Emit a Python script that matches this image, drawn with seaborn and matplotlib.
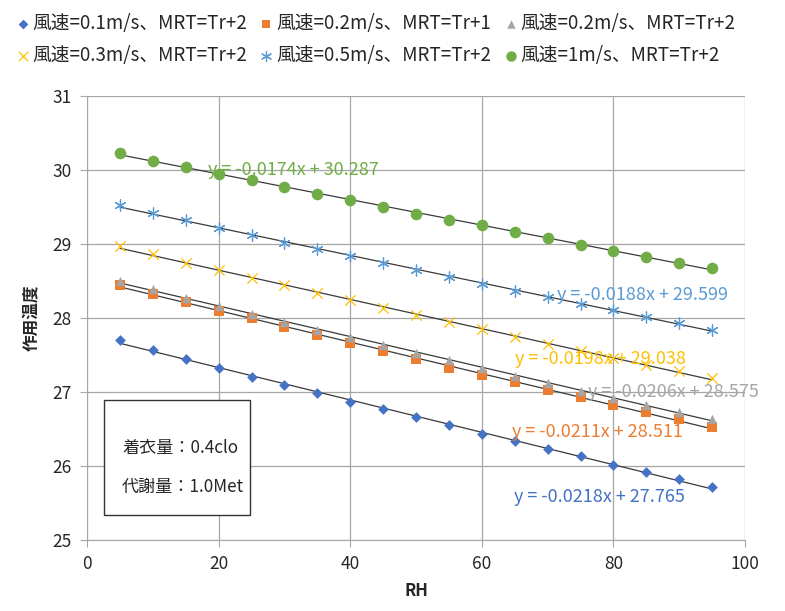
import numpy as np
import matplotlib
matplotlib.use('Agg')
import matplotlib.pyplot as plt
from matplotlib.patches import Rectangle
import seaborn as sns

# data
rh = [5, 10, 15, 20, 25, 30, 35, 40, 45, 50, 55, 60, 65, 70, 75, 80, 85, 90, 95]
s1 = [27.70, 27.57, 27.45, 27.33, 27.21, 27.10, 26.99, 26.87, 26.77, 26.66,
      26.55, 26.44, 26.34, 26.23, 26.13, 26.02, 25.92, 25.82, 25.72]
s2 = [28.45, 28.33, 28.22, 28.10, 28.00, 27.88, 27.77, 27.66, 27.55, 27.44,
      27.33, 27.23, 27.13, 27.03, 26.93, 26.83, 26.73, 26.63, 26.53]
s3 = [28.50, 28.39, 28.27, 28.16, 28.06, 27.95, 27.84, 27.74, 27.63, 27.53,
      27.43, 27.33, 27.22, 27.12, 27.02, 26.92, 26.83, 26.73, 26.64]
s4 = [28.97, 28.86, 28.75, 28.65, 28.54, 28.44, 28.34, 28.24, 28.14, 28.04,
      27.94, 27.85, 27.75, 27.65, 27.56, 27.46, 27.37, 27.28, 27.19]
s5 = [29.52, 29.42, 29.32, 29.22, 29.12, 29.02, 28.93, 28.84, 28.74, 28.65,
      28.56, 28.46, 28.37, 28.28, 28.19, 28.11, 28.02, 27.93, 27.84]
s6 = [30.23, 30.12, 30.04, 29.95, 29.86, 29.77, 29.68, 29.59, 29.50, 29.41,
      29.33, 29.25, 29.16, 29.08, 28.99, 28.91, 28.83, 28.75, 28.67]

labels = ['風速=0.1m/s、MRT=Tr+2', '風速=0.2m/s、MRT=Tr+1', '風速=0.2m/s、MRT=Tr+2',
          '風速=0.3m/s、MRT=Tr+2', '風速=0.5m/s、MRT=Tr+2', '風速=1m/s、MRT=Tr+2']
equations = ['y = -0.0218x + 27.765', 'y = -0.0211x + 28.511', 'y = -0.0206x + 28.575',
             'y = -0.0198x + 29.038', 'y = -0.0188x + 29.599', 'y = -0.0174x + 30.287']
eq_pos = [(64.9, 25.58), (64.6, 26.46), (76.1, 27.0), (65.0, 27.45), (71.4, 28.31), (18.4, 30.0)]
note_lines = ['着衣量：0.4clo', '代謝量：1.0Met']

colors = ['#4472C4', '#ED7D31', '#A5A5A5', '#FFC000', '#5B9BD5', '#70AD47']
markers = ['D', 's', '^', 'x', (6, 2, 0), 'o']
sizes = [30, 50, 45, 55, 65, 70]

sns.set_style('white')
plt.rcParams['font.family'] = ['Noto Sans CJK JP', 'DejaVu Sans']

fig = plt.figure(figsize=(7.85, 6.11), dpi=100)
ax = fig.add_axes([0.111, 0.116, 0.838, 0.727])

series = [s1, s2, s3, s4, s5, s6]
handles = []
for y, lab, c, m, s in zip(series, labels, colors, markers, sizes):
    sns.regplot(x=rh, y=y, ax=ax, scatter=False, ci=None,
                line_kws=dict(color='#3a3a3a', lw=0.9, zorder=2))
    h = ax.scatter(rh, y, marker=m, color=c, s=s, zorder=3, label=lab,
                   linewidths=0.9 if m in ('x', (6, 2, 0)) else 0)
    handles.append(h)

for (ex, ey), eq, c in zip(eq_pos, equations, colors):
    ax.text(ex, ey, eq, color=c, fontsize=13, va='center', ha='left', zorder=4)

# note box
ax.add_patch(Rectangle((2.5, 25.34), 22.3, 1.55, fc='white', ec='#333333', lw=1.0, zorder=5))
ax.text(5.3, 26.24, note_lines[0], fontsize=12.3, va='center', ha='left', zorder=6)
ax.text(5.3, 25.72, note_lines[1], fontsize=12.3, va='center', ha='left', zorder=6)

ax.set_xlim(0, 100)
ax.set_ylim(25, 31)
ax.set_xticks(range(0, 101, 20))
ax.set_yticks(range(25, 32))
ax.grid(True, color='#A6A6A6', lw=0.9)
for side in ['top', 'right']:
    ax.spines[side].set_visible(False)
for side in ['left', 'bottom']:
    ax.spines[side].set_color('#A6A6A6')
ax.tick_params(axis='both', labelsize=12.5, length=5, color='#A6A6A6', direction='out',
               left=True, bottom=True, pad=6)
ax.set_xlabel('RH', fontsize=12, fontweight='bold', labelpad=6)
ax.set_ylabel('作用温度', fontsize=12, fontweight='bold', labelpad=8)

order = [0, 3, 1, 4, 2, 5]
fig.legend([handles[i] for i in order], [labels[i] for i in order], ncol=3,
           loc='upper left', bbox_to_anchor=(0.0, 1.0), frameon=False, fontsize=13.5,
           handletextpad=0.05, columnspacing=0.5, handlelength=1.0, labelspacing=0.6,
           borderaxespad=0.3, markerscale=0.9)

fig.savefig('out.png', dpi=100)
